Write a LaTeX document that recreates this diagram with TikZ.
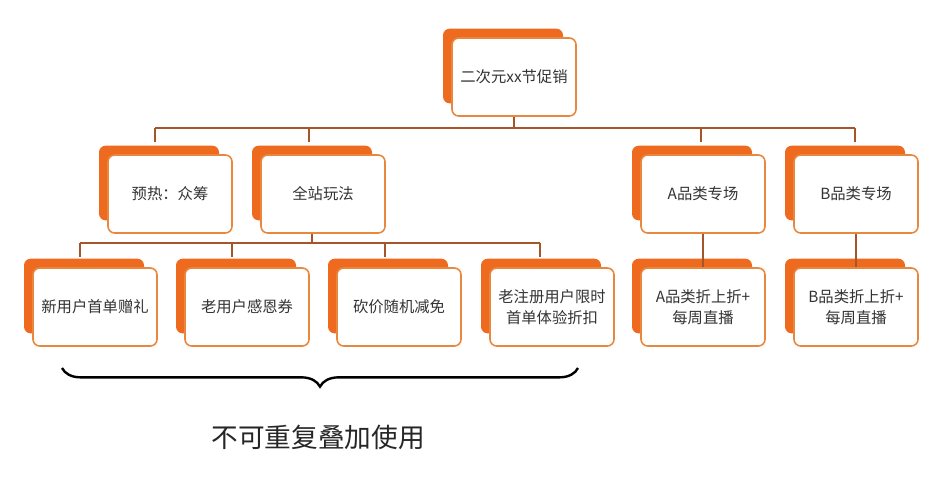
\documentclass[tikz,border=0pt]{standalone}
\usepackage{fontspec}
\newfontfamily\cjk{Noto Sans CJK SC}
\usetikzlibrary{decorations.pathreplacing}
\definecolor{bgorange}{HTML}{EE6A1E}
\definecolor{edgeorange}{HTML}{E8873E}
\definecolor{linkbrown}{HTML}{A5552A}
\tikzset{
  cardbox/.style={draw=edgeorange,line width=1.2pt,fill=white,rounded corners=5pt,
    minimum width=93pt,minimum height=58.5pt,align=center,font=\cjk\fontsize{11.5}{16}\selectfont,text=black!80},
  backbox/.style={fill=bgorange,rounded corners=5pt,minimum width=90pt,minimum height=56pt},
  link/.style={draw=linkbrown,line width=1.2pt}
}
% orange card behind a white card
\newcommand{\card}[4]{%
  \node[backbox] at (#2-11,#3-11) {};
  \node[cardbox] (#1) at (#2,#3) {#4};}
\begin{document}
\begin{tikzpicture}[x=0.75pt,y=-0.75pt]
\useasboundingbox (0,0) rectangle (946,480);
\card{top}{514}{77}{二次元xx节促销}
\card{pre}{170}{194}{预热：众筹}
\card{site}{323}{194}{全站玩法}
\card{catA}{703}{194}{A品类专场}
\card{catB}{856}{194}{B品类专场}
\card{newu}{95}{307}{新用户首单赠礼}
\card{oldu}{247}{307}{老用户感恩券}
\card{cut}{399}{307}{砍价随机减免}
\card{reg}{552}{307}{老注册用户限时\\首单体验折扣}
\card{subA}{703}{307}{A品类折上折+\\每周直播}
\card{subB}{856}{307}{B品类折上折+\\每周直播}
% links
\coordinate (bus1) at (514,128);
\coordinate (bus2) at (312,243);
\draw[link] (top.south) -- (bus1);
\draw[link] (155,128) -- (855,128);
\foreach \x in {155,309,701,855} \draw[link] (\x,128) -- (\x,142);
\draw[link] (site.south -| bus2) -- (bus2);
\draw[link] (80,243) -- (540,243);
\foreach \x in {80,232,385,540} \draw[link] (\x,243) -- (\x,257);
\draw[link] (catA.south) -- (subA.north);
\draw[link] (catB.south) -- (subB.north);
% brace
\draw[line width=1.8pt,decorate,decoration={brace,mirror,amplitude=14pt}] (62,368) -- (578,368);
\node[font=\cjk\fontsize{20}{24}\selectfont,text=black!85] (note) at (318,437) {不可重复叠加使用};
\end{tikzpicture}
\end{document}
